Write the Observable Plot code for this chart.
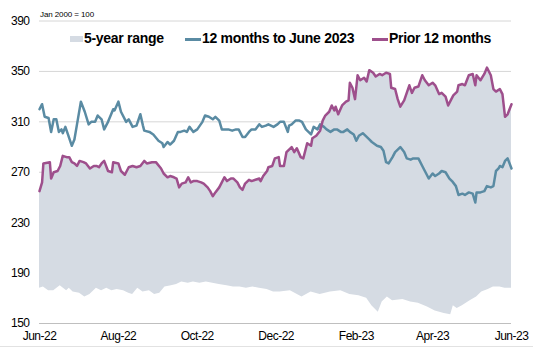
<!DOCTYPE html>
<html>
<head>
<meta charset="utf-8">
<script src="https://cdn.jsdelivr.net/npm/d3@7"></script>
<script src="https://cdn.jsdelivr.net/npm/@observablehq/plot@0.6"></script>
<style>
  html, body { margin: 0; padding: 0; background: #fff; }
  #wrap { position: relative; width: 533px; height: 348px; font-family: "Liberation Sans", Arial, sans-serif; color: #000; }
  #wrap svg { position: absolute; left: 0; top: 0; }
  .lg { position: absolute; white-space: nowrap; }
  .lgt { font-weight: bold; font-size: 14px; line-height: 16px; letter-spacing: -0.3px; top: 30px; }
  .unit { font-size: 8px; line-height: 10px; left: 40px; top: 10px; letter-spacing: -0.1px; }
  #frame { position: absolute; left: 0; top: 346px; width: 533px; height: 1px; background: #e2e2e2; }
</style>
</head>
<body>
<div id="wrap"></div>
<script>
// ---- data ----
const unitLabel = "Jan 2000 = 100";
const seriesNames = ["5-year range", "12 months to June 2023", "Prior 12 months"];
const yTicks = [150, 190, 230, 270, 310, 350, 390];
const xTickDates = ["2022-06-01", "2022-08-01", "2022-10-01", "2022-12-01", "2023-02-01", "2023-04-01", "2023-06-01"];

const recentDates = [
"2022-06-01","2022-06-03","2022-06-05","2022-06-08","2022-06-10","2022-06-12","2022-06-14","2022-06-16","2022-06-18","2022-06-19",
"2022-06-21","2022-06-23","2022-06-26","2022-06-28","2022-06-30","2022-07-03","2022-07-06","2022-07-09","2022-07-11","2022-07-14",
"2022-07-16","2022-07-19","2022-07-21","2022-07-24","2022-07-28","2022-07-29","2022-08-01","2022-08-03","2022-08-07","2022-08-09",
"2022-08-12","2022-08-15","2022-08-18","2022-08-20","2022-08-21","2022-08-25","2022-08-28","2022-09-01","2022-09-04","2022-09-05",
"2022-09-08","2022-09-10","2022-09-13","2022-09-16","2022-09-18","2022-09-21","2022-09-23","2022-09-25","2022-09-28","2022-10-01",
"2022-10-05","2022-10-07","2022-10-10","2022-10-13","2022-10-15","2022-10-18","2022-10-20","2022-10-22","2022-10-25","2022-10-28",
"2022-10-31","2022-11-02","2022-11-05","2022-11-07","2022-11-10","2022-11-12","2022-11-15","2022-11-18","2022-11-20","2022-11-23",
"2022-11-25","2022-11-29","2022-12-02","2022-12-04","2022-12-07","2022-12-10","2022-12-11","2022-12-13","2022-12-16","2022-12-19",
"2022-12-21","2022-12-24","2022-12-26","2022-12-28","2022-12-30","2023-01-02","2023-01-04","2023-01-07","2023-01-09","2023-01-12",
"2023-01-15","2023-01-17","2023-01-20","2023-01-22","2023-01-25","2023-01-27","2023-01-30","2023-02-01","2023-02-03","2023-02-06",
"2023-02-08","2023-02-11","2023-02-13","2023-02-17","2023-02-20","2023-02-22","2023-02-24","2023-02-26","2023-03-01","2023-03-03",
"2023-03-07","2023-03-10","2023-03-12","2023-03-15","2023-03-17","2023-03-21","2023-03-24","2023-03-26","2023-03-29","2023-04-01",
"2023-04-03","2023-04-06","2023-04-08","2023-04-11","2023-04-14","2023-04-16","2023-04-19","2023-04-21","2023-04-24","2023-04-26",
"2023-04-29","2023-05-02","2023-05-04","2023-05-05","2023-05-08","2023-05-11","2023-05-13","2023-05-16","2023-05-18","2023-05-20",
"2023-05-22","2023-05-23","2023-05-25","2023-05-27","2023-05-29","2023-06-01"];
const recentValues = [
320,324,314,313,302,312,312,302,304,301,
306,300,291,296,308,326,318,308,310,310,
315,312,304,310,320,319,326,318,310,312,
306,307,316,307,303,302,300,295,293,290,
294,292,295,302,302,303,302,306,302,304,
310,315,314,312,314,311,304,304,304,303,
304,304,298,298,302,304,304,308,306,307,
308,306,308,310,310,302,307,308,311,311,
310,304,302,300,306,304,308,306,304,302,
304,304,302,302,304,302,300,295,299,301,
299,296,294,291,290,287,278,277,282,286,
290,286,281,280,281,281,275,271,265,269,
267,269,271,270,265,263,259,252,253,252,
254,253,246,254,254,255,259,258,259,271,
273,275,274,279,281,273];

const priorDates = [
"2022-06-01","2022-06-03","2022-06-04","2022-06-09","2022-06-10","2022-06-12","2022-06-15","2022-06-17","2022-06-19","2022-06-22",
"2022-06-24","2022-06-26","2022-06-28","2022-06-30","2022-07-02","2022-07-05","2022-07-07","2022-07-10","2022-07-13","2022-07-15",
"2022-07-17","2022-07-19","2022-07-21","2022-07-24","2022-07-27","2022-07-28","2022-08-01","2022-08-03","2022-08-06","2022-08-09",
"2022-08-12","2022-08-15","2022-08-18","2022-08-21","2022-08-23","2022-08-27","2022-08-30","2022-09-03","2022-09-05","2022-09-08",
"2022-09-10","2022-09-13","2022-09-15","2022-09-17","2022-09-19","2022-09-22","2022-09-24","2022-09-26","2022-09-28","2022-10-01",
"2022-10-04","2022-10-06","2022-10-09","2022-10-11","2022-10-13","2022-10-15","2022-10-18","2022-10-20","2022-10-22","2022-10-24",
"2022-10-27","2022-10-29","2022-11-01","2022-11-03","2022-11-05","2022-11-07","2022-11-10","2022-11-12","2022-11-15","2022-11-18",
"2022-11-19","2022-11-21","2022-11-24","2022-11-25","2022-11-28","2022-11-30","2022-12-03","2022-12-04","2022-12-07","2022-12-09",
"2022-12-11","2022-12-13","2022-12-15","2022-12-17","2022-12-20","2022-12-22","2022-12-25","2022-12-28","2022-12-29","2023-01-01",
"2023-01-04","2023-01-06","2023-01-08","2023-01-11","2023-01-13","2023-01-15","2023-01-16","2023-01-18","2023-01-21","2023-01-24",
"2023-01-26","2023-01-27","2023-01-29","2023-01-31","2023-02-02","2023-02-04","2023-02-07","2023-02-09","2023-02-11","2023-02-14",
"2023-02-16","2023-02-19","2023-02-21","2023-02-24","2023-02-27","2023-02-28","2023-03-03","2023-03-05","2023-03-07","2023-03-10",
"2023-03-12","2023-03-14","2023-03-16","2023-03-18","2023-03-21","2023-03-24","2023-03-26","2023-03-29","2023-04-01","2023-04-03",
"2023-04-06","2023-04-08","2023-04-11","2023-04-13","2023-04-15","2023-04-17","2023-04-20","2023-04-21","2023-04-24","2023-04-26",
"2023-04-29","2023-05-02","2023-05-04","2023-05-05","2023-05-08","2023-05-11","2023-05-13","2023-05-16","2023-05-18","2023-05-20",
"2023-05-23","2023-05-25","2023-05-27","2023-05-29","2023-06-01"];
const priorValues = [
255,262,277,278,265,270,271,275,283,282,
282,278,277,275,279,278,277,273,275,275,
274,277,279,271,270,278,277,271,268,274,
275,274,275,279,277,278,278,273,269,266,
267,266,265,258,261,262,266,262,263,263,
262,261,258,255,251,254,258,262,266,263,
265,265,262,258,256,261,264,263,264,265,
263,267,271,274,275,281,282,275,275,286,
288,290,286,289,282,281,293,291,297,299,
303,311,315,318,323,319,322,316,323,326,
327,341,337,328,347,343,345,342,351,349,
346,348,347,349,348,337,336,328,322,327,
333,339,333,337,338,347,343,339,341,339,
332,333,330,323,327,331,334,339,340,339,
347,348,339,347,343,348,353,347,336,334,
336,332,314,316,324];

// lower edge of the 5-year range (upper edge follows the prior-12-months series)
const rangeLowDates = [
"2022-06-01","2022-06-04","2022-06-08","2022-06-12","2022-06-17","2022-06-22","2022-06-24","2022-06-27","2022-07-02","2022-07-06",
"2022-07-10","2022-07-15","2022-07-19","2022-07-23","2022-07-27","2022-07-31","2022-08-05","2022-08-09","2022-08-12","2022-08-16",
"2022-08-20","2022-08-25","2022-08-29","2022-09-02","2022-09-06","2022-09-11","2022-09-15","2022-09-19","2022-09-24","2022-09-28",
"2022-10-03","2022-10-08","2022-10-13","2022-10-18","2022-10-24","2022-10-29","2022-11-03","2022-11-08","2022-11-13","2022-11-18",
"2022-11-24","2022-11-29","2022-12-04","2022-12-12","2022-12-21","2022-12-28","2023-01-04","2023-01-12","2023-01-20","2023-01-27",
"2023-02-03","2023-02-09","2023-02-13","2023-02-18","2023-02-21","2023-02-25","2023-03-01","2023-03-09","2023-03-15","2023-03-21",
"2023-03-28","2023-04-03","2023-04-10","2023-04-15","2023-04-17","2023-04-20","2023-04-24","2023-04-30","2023-05-05","2023-05-09",
"2023-05-14","2023-05-18","2023-05-23","2023-05-27","2023-06-01"];
const rangeLowValues = [
178,179,176,176,180,176,178,175,174,171,
173,178,176,178,176,177,176,174,173,178,
175,176,173,174,179,180,181,183,182,183,
182,183,182,181,180,179,179,178,179,178,
177,175,175,176,171,175,173,175,176,173,
172,170,164,159,167,171,168,169,167,166,
163,160,158,157,164,162,164,168,171,175,
177,179,179,178,178];

// ---- styles ----
const bandColor = "#d5dbe3";
const recentColor = "#5a8ba3";
const priorColor = "#9e4f8c";

const toRows = (ds, vs) => ds.map((d, i) => ({date: new Date(d), value: vs[i]}));
const recent = toRows(recentDates, recentValues);
const prior = toRows(priorDates, priorValues);
const rangeLow = toRows(rangeLowDates, rangeLowValues);

const chart = Plot.plot({
  width: 533,
  height: 348,
  marginLeft: 39,
  marginRight: 22,
  marginTop: 20.5,
  marginBottom: 25,
  style: {fontFamily: '"Liberation Sans", Arial, sans-serif', fontSize: "12px", color: "#000", background: "transparent", letterSpacing: "-0.5px"},
  x: {type: "utc", domain: [new Date(xTickDates[0]), new Date(xTickDates[xTickDates.length - 1])], ticks: xTickDates.map(d => new Date(d)), tickFormat: d3.utcFormat("%b-%y"), tickSize: 0, tickPadding: 8, label: null},
  y: {domain: [yTicks[0], yTicks[yTicks.length - 1]], ticks: yTicks, tickSize: 0, tickPadding: 10, label: null},
  marks: [
    Plot.ruleY(yTicks.slice(1), {stroke: "#d6d6d6", strokeWidth: 1}),
    Plot.areaY(prior, {x: "date", y1: yTicks[0], y2: "value", fill: bandColor}),
    Plot.areaY(rangeLow, {x: "date", y1: yTicks[0], y2: "value", fill: "#ffffff"}),
    Plot.ruleY([yTicks[0]], {stroke: "#bfbfbf", strokeWidth: 1}),
    Plot.lineY(recent, {x: "date", y: "value", stroke: recentColor, strokeWidth: 2.5, strokeLinejoin: "round"}),
    Plot.lineY(prior, {x: "date", y: "value", stroke: priorColor, strokeWidth: 2.5, strokeLinejoin: "round"})
  ]
});

const wrap = document.getElementById("wrap");
wrap.appendChild(chart);

function addDiv(cls, text, css) {
  const d = document.createElement("div");
  d.className = cls;
  if (text) d.textContent = text;
  Object.assign(d.style, css);
  wrap.appendChild(d);
  return d;
}
addDiv("lg unit", unitLabel, {});
addDiv("lg", "", {left: "70px", top: "36px", width: "13px", height: "6px", background: bandColor});
addDiv("lg lgt", seriesNames[0], {left: "84px"});
addDiv("lg", "", {left: "185px", top: "37.5px", width: "16px", height: "3px", background: recentColor});
addDiv("lg lgt", seriesNames[1], {left: "202px"});
addDiv("lg", "", {left: "372px", top: "37.5px", width: "16px", height: "3px", background: priorColor});
addDiv("lg lgt", seriesNames[2], {left: "389px"});
addDiv("", "", {}).id = "frame";
</script>
</body>
</html>
